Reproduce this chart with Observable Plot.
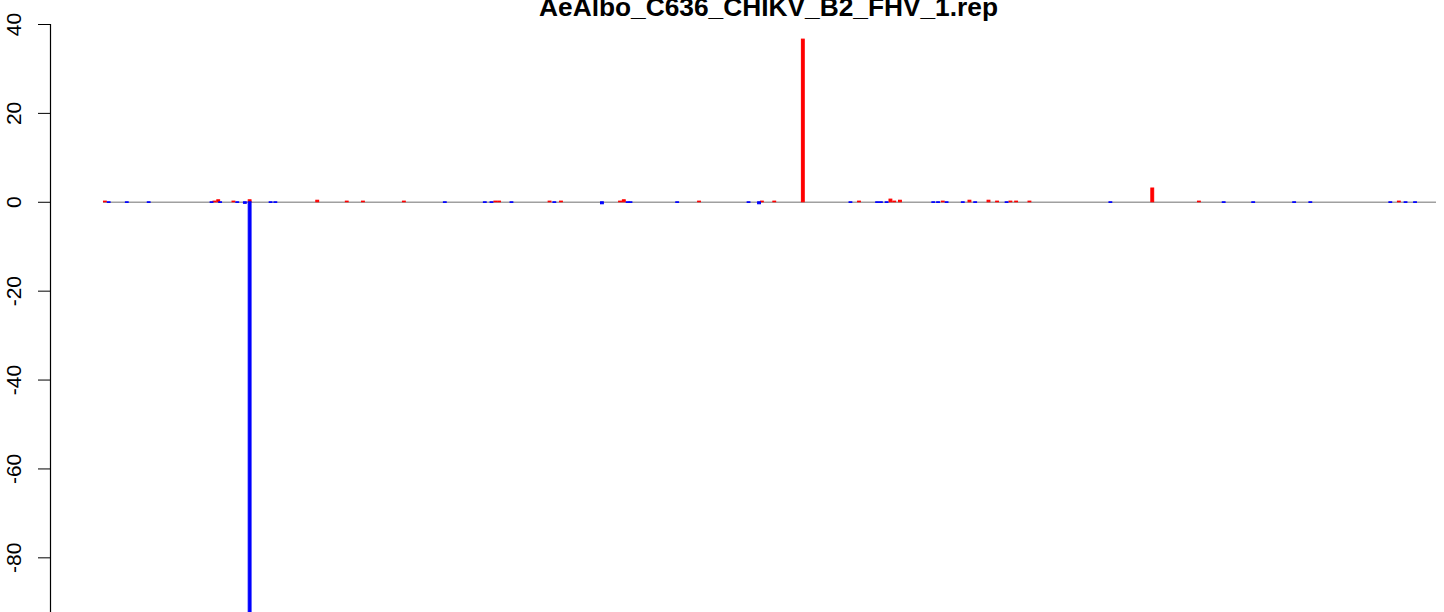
<!DOCTYPE html>
<html>
<head>
<meta charset="utf-8">
<script src="https://cdn.jsdelivr.net/npm/d3@7"></script>
<script src="https://cdn.jsdelivr.net/npm/@observablehq/plot@0.6"></script>
<style>
  html, body { margin: 0; padding: 0; background: #ffffff; }
  #chart { width: 1444px; height: 612px; overflow: hidden; }
</style>
</head>
<body>
<div id="chart"></div>
<script>
const title = "AeAlbo_C636_CHIKV_B2_FHV_1.rep";
const genomeLength = 1400;
const yTicks = [-80, -60, -40, -20, 0, 20, 40];

// sense (positive) reads per position
const sensePos = [2, 117, 121, 137, 154, 225, 256, 273, 316, 412, 416, 469, 481, 543, 547, 626, 692, 705, 735, 794, 827, 831, 837, 882, 910, 930, 939, 953, 959, 973, 1102, 1151, 1361];
const senseVal = [0.15, 0.15, 0.45, 0.15, 0.45, 0.35, 0.15, 0.15, 0.15, 0.15, 0.15, 0.15, 0.15, 0.15, 0.45, 0.15, 0.15, 0.15, 36.6, 0.15, 0.6, 0.15, 0.35, 0.15, 0.35, 0.35, 0.15, 0.15, 0.15, 0.15, 3.1, 0.15, 0.15];

// antisense (negative) reads per position
const antiPos = [6, 25, 48, 114, 123, 141, 149, 154, 176, 181, 359, 401, 408, 429, 474, 524, 551, 554, 603, 678, 689, 785, 813, 817, 823, 872, 877, 886, 903, 916, 949, 1058, 1177, 1208, 1251, 1268, 1352, 1368, 1378];
const antiVal = [-0.15, -0.15, -0.15, -0.15, -0.15, -0.15, -0.35, -95, -0.15, -0.15, -0.15, -0.15, -0.15, -0.15, -0.15, -0.45, -0.15, -0.15, -0.15, -0.15, -0.45, -0.15, -0.15, -0.15, -0.15, -0.15, -0.15, -0.15, -0.15, -0.15, -0.15, -0.15, -0.15, -0.15, -0.15, -0.15, -0.15, -0.15, -0.15];

const bars = [
  ...sensePos.map((p, i) => ({pos: p, value: senseVal[i], strand: "sense"})),
  ...antiPos.map((p, i) => ({pos: p, value: antiVal[i], strand: "antisense"}))
];

const colors = {sense: "#ff0000", antisense: "#0000ff"};
const halfW = 1.5;

const chart = Plot.plot({
  width: 1444,
  height: 612,
  marginTop: 24,
  marginBottom: 0,
  marginLeft: 50,
  marginRight: 8,
  style: {fontFamily: "'Liberation Sans', Arial, Helvetica, sans-serif", background: "#ffffff", color: "#000000"},
  x: {domain: [0, genomeLength], range: [103, 1436], axis: null},
  y: {domain: [-92.3, 40]},
  marks: [
    Plot.ruleY([0], {x1: 0, x2: genomeLength, stroke: "#a0a0a0", strokeWidth: 1.6}),
    Plot.rect(bars, {
      x1: d => d.pos - halfW,
      x2: d => d.pos + halfW,
      y1: 0,
      y2: "value",
      fill: d => colors[d.strand],
      stroke: d => colors[d.strand],
      strokeWidth: 1,
      clip: true
    }),
    Plot.frame({anchor: "left", stroke: "#000000", strokeWidth: 1.2}),
    Plot.axisY({
      ticks: yTicks,
      tickSize: 12,
      tickRotate: -90,
      tickPadding: 18,
      tickFormat: d => String(d),
      fontSize: 21,
      label: null
    }),
    Plot.text([title], {
      frameAnchor: "top",
      dx: 25,
      dy: -9,
      lineAnchor: "bottom",
      fontSize: 26.3,
      fontWeight: "bold",
      fill: "#000000"
    })
  ]
});

document.getElementById("chart").appendChild(chart);
</script>
</body>
</html>
